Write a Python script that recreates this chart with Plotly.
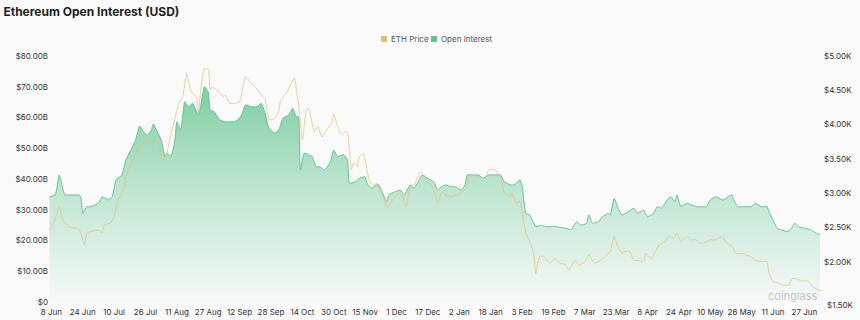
import pandas as pd
import plotly.graph_objects as go

base_date = pd.Timestamp("2025-06-08")

# Open interest (USD billions) — day offsets from 8 Jun 2025 and values
oi_days = [-1,2,4,6,7,10,14,15,16,18,20,24,26,29,31,33,36,38,41,43,45,47,49,51,52,54,56,58,59,61,63,64,66,68,70,72,75,76,78,80,81,83,86,89,93,95,97,99,102,105,107,109,111,114,116,118,121,123,125,126,127,129,131,133,135,137,139,142,144,146,149,151,152,155,157,160,161,163,166,167,169,171,172,175,178,180,183,185,188,189,192,195,197,199,201,204,206,209,211,212,215,218,220,223,226,229,231,234,236,239,240,242,244,246,247,250,252,255,257,259,262,265,268,270,273,274,276,279,281,284,285,287,289,291,294,297,299,302,304,307,309,311,313,314,316,318,319,321,324,326,329,331,334,336,339,342,343,345,347,348,350,353,357,359,362,365,366,368,370,372,375,377,379,381,384,387,390,392]
oi_values = [34.2,34.8,41.3,36.5,34.8,34.8,34.8,34.2,28.8,31.0,31.0,32.1,34.2,33.2,34.2,39.7,41.3,46.2,50.0,52.7,57.2,55.4,54.3,55.9,57.9,55.4,52.7,47.3,48.4,47.3,52.7,58.6,55.9,65.1,63.5,64.6,60.8,63.0,70.0,68.4,62.4,61.9,59.2,58.6,58.6,59.2,60.8,64.1,63.5,63.5,64.6,61.4,56.5,54.9,55.9,59.7,60.8,63.0,60.2,60.2,42.9,48.4,47.9,47.3,44.0,44.0,42.9,45.1,49.4,47.3,47.9,46.2,38.6,39.1,40.2,40.7,38.6,37.0,38.1,38.1,35.3,32.6,34.8,35.8,36.4,34.8,38.1,37.0,40.2,41.3,40.2,39.1,36.4,37.5,38.1,37.5,37.5,36.4,38.1,41.3,41.3,41.3,40.2,41.3,41.3,41.3,39.1,38.1,38.1,39.7,38.1,28.8,28.3,25.6,24.5,24.9,24.5,24.5,24.5,24.3,24.0,23.5,26.1,25.0,25.6,28.3,25.6,26.1,27.7,28.8,28.3,33.7,30.5,28.3,29.3,30.5,28.8,29.9,27.7,28.8,31.0,30.5,32.1,33.2,34.2,32.6,34.8,31.0,32.1,31.7,31.0,31.0,31.0,33.2,34.2,33.2,33.2,34.2,34.8,33.2,31.0,31.0,31.0,32.1,31.0,31.0,29.3,26.7,24.0,23.5,22.9,23.5,25.6,24.5,24.0,23.5,22.4,21.9]

# ETH price (USD thousands)
price_days = [-1,1,3,4,6,9,12,14,16,17,18,20,24,26,27,30,32,34,37,38,40,43,45,48,51,54,57,59,60,62,64,65,67,69,71,72,74,75,76,78,80,81,82,85,88,89,91,94,96,99,101,104,106,109,111,114,116,117,120,122,124,125,126,128,130,131,133,134,136,138,141,143,144,146,148,150,151,153,154,156,157,159,161,162,164,166,167,169,171,172,174,177,179,181,183,185,188,189,192,195,197,199,201,204,206,209,212,213,216,218,221,223,226,229,231,234,235,237,239,240,242,244,246,247,249,251,254,257,259,262,264,267,269,272,274,277,280,282,285,287,289,291,292,295,297,299,302,303,306,308,310,313,315,317,319,321,324,326,329,331,334,336,339,342,344,347,349,352,354,357,359,362,365,366,368,371,373,376,378,381,383,386,388,391,393]
price_values = [2.46,2.56,2.71,2.80,2.61,2.51,2.49,2.49,2.32,2.25,2.42,2.44,2.46,2.42,2.54,2.56,2.66,2.90,3.05,3.24,3.39,3.58,3.70,3.73,3.73,3.78,3.48,3.60,3.73,3.97,4.21,4.31,4.41,4.75,4.50,4.46,4.41,4.16,4.46,4.82,4.80,4.50,4.55,4.48,4.41,4.43,4.31,4.31,4.33,4.70,4.63,4.55,4.48,4.36,4.07,4.09,4.21,4.36,4.46,4.58,4.68,4.50,4.31,3.78,4.21,4.24,4.02,3.90,3.97,3.82,3.95,4.02,4.16,3.97,3.85,3.90,3.88,3.34,3.44,3.39,3.53,3.58,3.34,3.19,3.12,3.14,3.07,2.95,2.80,2.80,2.90,3.00,2.95,2.80,3.09,3.12,3.31,3.29,3.17,3.07,2.85,3.02,2.97,2.95,2.97,3.00,3.09,3.24,3.26,3.24,3.21,3.34,3.34,3.26,3.00,2.95,3.00,2.85,2.88,2.75,2.42,2.29,2.12,1.83,2.08,2.08,1.98,2.05,1.98,1.96,1.88,2.02,1.95,2.00,2.10,1.98,2.02,2.07,2.15,2.37,2.22,2.12,2.15,2.15,2.02,2.02,2.00,2.12,2.05,2.15,2.25,2.29,2.37,2.34,2.42,2.29,2.37,2.32,2.32,2.27,2.29,2.32,2.32,2.37,2.29,2.22,2.12,2.12,2.10,2.07,2.02,2.00,2.00,1.83,1.71,1.69,1.66,1.66,1.76,1.74,1.72,1.72,1.64,1.59,1.58]

# Axis ticks
x_tick_dates = ["2025-06-08","2025-06-24","2025-07-10","2025-07-26","2025-08-11","2025-08-27","2025-09-12","2025-09-28","2025-10-14","2025-10-30","2025-11-15","2025-12-01","2025-12-17","2026-01-02","2026-01-18","2026-02-03","2026-02-19","2026-03-07","2026-03-23","2026-04-08","2026-04-24","2026-05-10","2026-05-26","2026-06-11","2026-06-27"]
x_tick_labels = ["8 Jun","24 Jun","10 Jul","26 Jul","11 Aug","27 Aug","12 Sep","28 Sep","14 Oct","30 Oct","15 Nov","1 Dec","17 Dec","2 Jan","18 Jan","3 Feb","19 Feb","7 Mar","23 Mar","8 Apr","24 Apr","10 May","26 May","11 Jun","27 Jun"]
left_tick_vals = [0,10,20,30,40,50,60,70,80]
left_tick_labels = ["$0","$10.00B","$20.00B","$30.00B","$40.00B","$50.00B","$60.00B","$70.00B","$80.00B"]
right_tick_vals = [2.0,2.5,3.0,3.5,4.0,4.5,5.0]
right_tick_labels = ["$2.00K","$2.50K","$3.00K","$3.50K","$4.00K","$4.50K","$5.00K"]
right_min_label = "$1.50K"
legend_names = ["ETH Price", "Open Interest"]

oi_dates = base_date + pd.to_timedelta(oi_days, unit="D")
price_dates = base_date + pd.to_timedelta(price_days, unit="D")

GOLD = "#e3c27c"
FONT = "Inter, Roboto, sans-serif"

# layout geometry (pixels)
W, H = 860, 320
ML, MR, MT, MB = 49, 37, 56, 18
PW, PH = W - ML - MR, H - MT - MB

def px_x(px):
    return (px - ML) / PW

def px_y(py):
    return (H - MB - py) / PH

fig = go.Figure()
fig.add_trace(go.Scatter(
    x=oi_dates, y=oi_values, name=legend_names[1], mode="lines",
    line=dict(color="#66c393", width=1, shape="spline", smoothing=0.4),
    fill="tozeroy",
    fillgradient=dict(type="vertical", start=0, stop=72,
                      colorscale=[[0, "rgba(120,205,160,0.03)"],
                                  [0.5, "rgba(120,205,160,0.45)"],
                                  [1, "rgba(110,200,152,0.92)"]]),
    showlegend=False, yaxis="y"))
fig.add_trace(go.Scatter(
    x=price_dates, y=price_values, name=legend_names[0], mode="lines",
    line=dict(color=GOLD, width=1, shape="spline", smoothing=0.4),
    opacity=0.75, showlegend=False, yaxis="y2"))

x_start = base_date + pd.Timedelta(days=-1.2)
x_end = base_date + pd.Timedelta(days=393.5)

fig.update_layout(
    width=W, height=H,
    margin=dict(l=ML, r=MR, t=MT, b=MB, autoexpand=False),
    paper_bgcolor="#fafafa", plot_bgcolor="#fafafa",
    font=dict(family=FONT, size=8, color="#333"),
    title=dict(text="<b>Ethereum Open Interest (USD)</b>", x=0.004, xanchor="left",
               y=0.962, yanchor="middle", font=dict(size=12, color="#1e1e1e", family=FONT)),
    showlegend=False,
    xaxis=dict(type="date", range=[x_start, x_end], tickvals=x_tick_dates, ticktext=x_tick_labels,
               showgrid=False, zeroline=False, showline=False, ticks="", automargin=False,
               ticklabelstandoff=4, tickfont=dict(size=8, color="#333")),
    yaxis=dict(range=[0, 80], tickvals=left_tick_vals, ticktext=left_tick_labels,
               showgrid=False, zeroline=False, showline=False, ticks="", automargin=False,
               tickfont=dict(size=8, color="#333")),
    yaxis2=dict(range=[1.414, 5.0], overlaying="y", side="right",
                tickvals=right_tick_vals, ticktext=right_tick_labels, automargin=False,
                showgrid=False, zeroline=False, showline=False, ticks="",
                tickfont=dict(size=8, color="#333")),
    hovermode=False,
)

# lowest right-axis label sits just below the plot floor, as in the reference
fig.add_annotation(text=right_min_label, xref="paper", yref="paper", x=px_x(825), y=px_y(305),
                   xanchor="left", yanchor="middle", showarrow=False,
                   font=dict(size=8, color="#333", family=FONT))

# custom legend: square swatches + labels
legend_items = [(legend_names[0], "#e0bf72", 381), (legend_names[1], "#62c496", 431)]
for name, col, sx in legend_items:
    fig.add_shape(type="rect", xref="paper", yref="paper",
                  x0=px_x(sx), x1=px_x(sx + 6), y0=px_y(42), y1=px_y(36),
                  fillcolor=col, line=dict(width=0))
    fig.add_annotation(text=name, xref="paper", yref="paper", x=px_x(sx + 8), y=px_y(39),
                       xanchor="left", yanchor="middle", showarrow=False,
                       font=dict(size=8, color="#555", family=FONT))

fig.add_annotation(text="coinglass", xref="paper", yref="paper", x=px_x(792), y=px_y(296),
                   xanchor="center", yanchor="middle", showarrow=False,
                   font=dict(size=11, color="rgba(150,150,150,0.55)", family=FONT))

fig.write_html("out.html")
